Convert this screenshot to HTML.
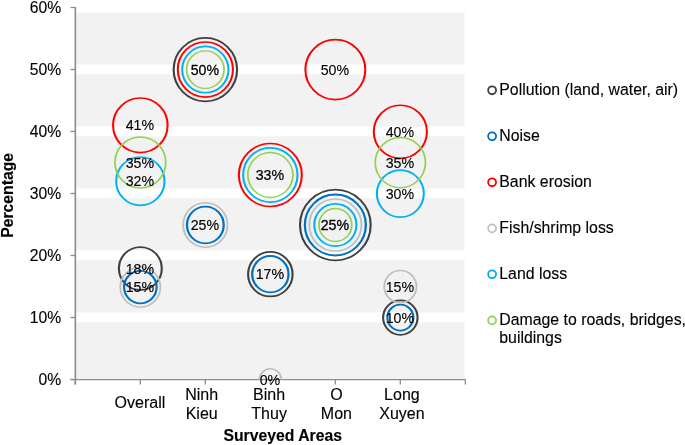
<!DOCTYPE html>
<html lang="en"><head><meta charset="utf-8"><title>Surveyed Areas bubble chart</title>
<style>
html,body{margin:0;padding:0;background:#fff;}
body{width:685px;height:445px;overflow:hidden;}
svg{display:block;}
text{font-family:"Liberation Sans",Arial,sans-serif;fill:#000;stroke:#000;stroke-width:0.12px;}
.ax{font-size:16px;}
.dl{font-size:14.2px;stroke:none;}
.lg{font-size:15.85px;}
.tt{font-size:15.75px;font-weight:bold;fill:#000;stroke:none;}
</style></head><body>
<svg width="685" height="445" viewBox="0 0 685 445">
<defs><clipPath id="plot"><rect x="76" y="0" width="389" height="379.5"/></clipPath></defs>
<rect x="0" y="0" width="685" height="445" fill="#fff"/>
<rect x="76" y="12" width="388.6" height="367" fill="#f2f2f2"/>

<rect x="76" y="312.50" width="389" height="9.85" fill="#fff"/>
<rect x="76" y="250.50" width="389" height="9.85" fill="#fff"/>
<rect x="76" y="188.50" width="389" height="9.85" fill="#fff"/>
<rect x="76" y="126.50" width="389" height="9.85" fill="#fff"/>
<rect x="76" y="64.50" width="389" height="9.85" fill="#fff"/>
<rect x="76" y="2.50" width="389" height="9.85" fill="#fff"/>
<rect x="76" y="0" width="389" height="12.2" fill="#fff"/>
<g stroke="#8c8c8c" stroke-width="1.3" fill="none">
<path d="M75.35 6.9 V384.5" stroke-width="1.6"/>
<path d="M70.5 379.55 H465.6"/>
<path d="M70.5 379.5 H75.5"/>
<path d="M70.5 317.5 H75.5"/>
<path d="M70.5 255.5 H75.5"/>
<path d="M70.5 193.5 H75.5"/>
<path d="M70.5 131.5 H75.5"/>
<path d="M70.5 69.5 H75.5"/>
<path d="M70.5 7.5 H75.5"/>
<path d="M75.3 379.5 V384.5"/>
<path d="M140.3 379.5 V384.5"/>
<path d="M205.3 379.5 V384.5"/>
<path d="M270.3 379.5 V384.5"/>
<path d="M335.3 379.5 V384.5"/>
<path d="M400.3 379.5 V384.5"/>
<path d="M465.3 379.5 V384.5"/>
</g>
<g fill="none" stroke="#404040" stroke-width="1.7" clip-path="url(#plot)">
<ellipse transform="translate(140.35 268.50) scale(1.25 1)" rx="17.150" ry="21.44"/>
<ellipse transform="translate(205.35 69.60) scale(1.25 1)" rx="25.390" ry="31.74"/>
<ellipse transform="translate(270.35 274.20) scale(1.25 1)" rx="17.790" ry="22.24"/>
<ellipse transform="translate(335.35 225.00) scale(1.25 1)" rx="28.270" ry="35.34"/>
<ellipse transform="translate(400.35 317.60) scale(1.25 1)" rx="13.790" ry="17.24"/>
</g>
<g fill="none" stroke="#0070C0" stroke-width="1.8" clip-path="url(#plot)">
<ellipse transform="translate(140.35 287.10) scale(1.25 1)" rx="13.020" ry="16.27"/>
<ellipse transform="translate(205.35 225.00) scale(1.25 1)" rx="14.700" ry="18.38"/>
<ellipse transform="translate(270.35 274.20) scale(1.25 1)" rx="14.540" ry="18.18"/>
<ellipse transform="translate(335.35 225.00) scale(1.25 1)" rx="24.380" ry="30.48"/>
<ellipse transform="translate(400.35 317.60) scale(1.25 1)" rx="10.380" ry="12.97"/>
</g>
<g fill="none" stroke="#FF0000" stroke-width="1.65" clip-path="url(#plot)">
<ellipse transform="translate(140.35 125.30) scale(1.25 1)" rx="21.815" ry="27.27"/>
<ellipse transform="translate(205.35 69.60) scale(1.25 1)" rx="22.055" ry="27.57"/>
<ellipse transform="translate(270.35 175.00) scale(1.25 1)" rx="25.175" ry="31.47"/>
<ellipse transform="translate(335.35 69.60) scale(1.25 1)" rx="23.975" ry="29.97"/>
<ellipse transform="translate(400.35 131.80) scale(1.25 1)" rx="21.255" ry="26.57"/>
</g>
<g fill="none" stroke="#BFBFBF" stroke-width="1.5" clip-path="url(#plot)">
<ellipse transform="translate(140.35 287.10) scale(1.25 1)" rx="16.050" ry="20.06"/>
<ellipse transform="translate(205.35 225.00) scale(1.25 1)" rx="17.730" ry="22.16"/>
<ellipse transform="translate(270.35 379.80) scale(1.25 1)" rx="8.850" ry="11.06"/>
<ellipse transform="translate(335.35 225.00) scale(1.25 1)" rx="20.850" ry="26.06"/>
<ellipse transform="translate(400.35 286.60) scale(1.25 1)" rx="12.930" ry="16.16"/>
</g>
<g fill="none" stroke="#00B0F0" stroke-width="1.65" clip-path="url(#plot)">
<ellipse transform="translate(140.35 181.20) scale(1.25 1)" rx="19.335" ry="24.17"/>
<ellipse transform="translate(205.35 69.60) scale(1.25 1)" rx="18.535" ry="23.17"/>
<ellipse transform="translate(270.35 175.00) scale(1.25 1)" rx="21.735" ry="27.17"/>
<ellipse transform="translate(335.35 225.00) scale(1.25 1)" rx="16.855" ry="21.07"/>
<ellipse transform="translate(400.35 193.60) scale(1.25 1)" rx="18.775" ry="23.47"/>
</g>
<g fill="none" stroke="#92D050" stroke-width="1.4" clip-path="url(#plot)">
<ellipse transform="translate(140.35 162.50) scale(1.25 1)" rx="20.340" ry="25.43"/>
<ellipse transform="translate(205.35 69.60) scale(1.25 1)" rx="14.980" ry="18.73"/>
<ellipse transform="translate(270.35 175.00) scale(1.25 1)" rx="18.020" ry="22.52"/>
<ellipse transform="translate(335.35 225.00) scale(1.25 1)" rx="13.140" ry="16.43"/>
<ellipse transform="translate(400.35 162.60) scale(1.25 1)" rx="20.100" ry="25.12"/>
</g>
<g class="dl" text-anchor="middle">
<text transform="translate(139.90 292.25) scale(1 1.035)" style="stroke:#000;stroke-width:0.15px">15%</text>
<text transform="translate(139.90 273.65) scale(1 1.035)">18%</text>
<text transform="translate(139.90 186.35) scale(1 1.035)">32%</text>
<text transform="translate(139.90 167.65) scale(1 1.035)">35%</text>
<text transform="translate(139.90 130.45) scale(1 1.035)">41%</text>
<text transform="translate(204.90 230.15) scale(1 1.035)" style="stroke:#000;stroke-width:0.15px">25%</text>
<text transform="translate(204.90 74.75) scale(1 1.035)" style="stroke:#000;stroke-width:0.28px">50%</text>
<text transform="translate(269.90 384.95) scale(1 1.035)">0%</text>
<text transform="translate(269.90 279.35) scale(1 1.035)" style="stroke:#000;stroke-width:0.15px">17%</text>
<text transform="translate(269.90 180.15) scale(1 1.035)" style="stroke:#000;stroke-width:0.22px">33%</text>
<text transform="translate(334.90 230.15) scale(1 1.035)" style="stroke:#000;stroke-width:0.33px">25%</text>
<text transform="translate(334.90 74.75) scale(1 1.035)">50%</text>
<text transform="translate(399.90 322.75) scale(1 1.035)" style="stroke:#000;stroke-width:0.15px">10%</text>
<text transform="translate(399.90 291.75) scale(1 1.035)">15%</text>
<text transform="translate(399.90 198.75) scale(1 1.035)">30%</text>
<text transform="translate(399.90 167.75) scale(1 1.035)">35%</text>
<text transform="translate(399.90 136.95) scale(1 1.035)">40%</text>
</g>
<g class="ax" text-anchor="end" style="font-size:15.7px">
<text transform="translate(61.20 384.90) scale(1 1)">0%</text>
<text transform="translate(61.20 322.90) scale(1 1)">10%</text>
<text transform="translate(61.20 260.90) scale(1 1)">20%</text>
<text transform="translate(61.20 198.90) scale(1 1)">30%</text>
<text transform="translate(61.20 136.90) scale(1 1)">40%</text>
<text transform="translate(61.20 74.90) scale(1 1)">50%</text>
<text transform="translate(61.20 12.90) scale(1 1)">60%</text>
</g>
<g class="ax" text-anchor="middle">
<text transform="translate(139.90 407.70) scale(1 1)">Overall</text>
<text transform="translate(201.70 399.70) scale(1 1)">Ninh</text><text transform="translate(201.70 418.70) scale(1 1)">Kieu</text>
<text transform="translate(269.10 399.70) scale(1 1)">Binh</text><text transform="translate(269.10 418.70) scale(1 1)">Thuy</text>
<text transform="translate(336.40 399.70) scale(1 1)">O</text><text transform="translate(336.40 418.70) scale(1 1)">Mon</text>
<text transform="translate(401.90 399.70) scale(1 1)">Long</text><text transform="translate(401.90 418.70) scale(1 1)">Xuyen</text>
</g>
<g class="tt" text-anchor="middle"><text transform="translate(282.70 440.80) scale(1 1)">Surveyed Areas</text>
<text transform="translate(13.0 195.4) rotate(-90) scale(1 1)">Percentage</text></g>
<g class="lg">
<circle cx="492.1" cy="90.3" r="3.95" fill="none" stroke="#404040" stroke-width="1.8"/>
<text transform="translate(499.30 95.30) scale(1 1)">Pollution (land, water, air)</text>
<circle cx="492.1" cy="136.3" r="3.95" fill="none" stroke="#0070C0" stroke-width="1.8"/>
<text transform="translate(499.30 141.30) scale(1 1)">Noise</text>
<circle cx="492.1" cy="182.3" r="3.95" fill="none" stroke="#FF0000" stroke-width="1.8"/>
<text transform="translate(499.30 187.30) scale(1 1)">Bank erosion</text>
<circle cx="492.1" cy="228.4" r="3.95" fill="none" stroke="#BFBFBF" stroke-width="1.8"/>
<text transform="translate(499.30 233.40) scale(1 1)">Fish/shrimp loss</text>
<circle cx="492.1" cy="274.3" r="3.95" fill="none" stroke="#00B0F0" stroke-width="1.8"/>
<text transform="translate(499.30 279.30) scale(1 1)">Land loss</text>
<circle cx="492.1" cy="320.4" r="3.95" fill="none" stroke="#92D050" stroke-width="1.8"/>
<text transform="translate(499.30 325.40) scale(1 1)">Damage to roads, bridges,</text>
<text transform="translate(499.30 343.10) scale(1 1)">buildings</text>
</g>
</svg></body></html>
